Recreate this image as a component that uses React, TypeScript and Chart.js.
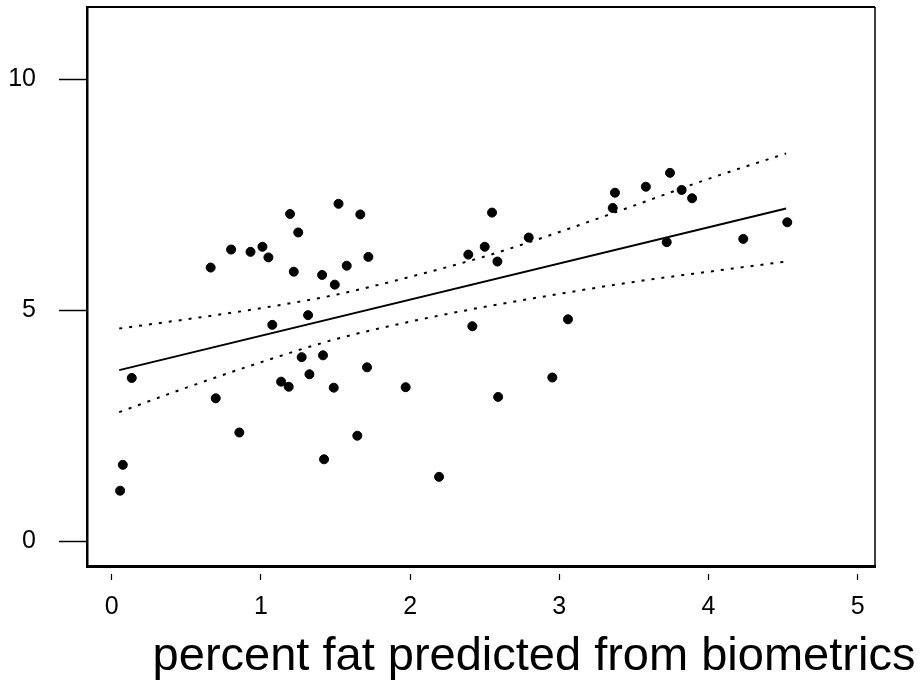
import React, { useEffect, useRef } from "react";
import { Chart, registerables } from "chart.js";

Chart.register(...registerables);

// Scatter observations
const pointX = [
  0.056, 0.074, 0.134, 0.663, 0.697, 0.8, 0.855, 0.93, 1.01, 1.05,
  1.076, 1.135, 1.186, 1.195, 1.22, 1.25, 1.273, 1.316, 1.325, 1.41,
  1.416, 1.423, 1.488, 1.495, 1.52, 1.575, 1.646, 1.666, 1.711, 1.72,
  1.97, 2.194, 2.39, 2.417, 2.5, 2.549, 2.585, 2.59, 2.795, 2.953,
  3.058, 3.358, 3.373, 3.58, 3.72, 3.742, 3.82, 3.89, 4.233, 4.528,
];
const pointY = [
  1.1, 1.66, 3.54, 5.93, 3.1, 6.32, 2.36, 6.27, 6.38, 6.15,
  4.69, 3.46, 3.35, 7.09, 5.84, 6.69, 3.99, 4.9, 3.62, 5.77,
  4.03, 1.78, 3.33, 5.56, 7.31, 5.97, 2.29, 7.08, 3.77, 6.16,
  3.34, 1.4, 6.21, 4.66, 6.38, 7.12, 6.06, 3.13, 6.58, 3.55,
  4.81, 7.22, 7.55, 7.68, 6.48, 7.98, 7.61, 7.43, 6.55, 6.91,
];

// Fitted regression line
const fitX = [0.05, 4.52];
const fitY = [3.71, 7.21];

// Confidence band
const bandX = [0.05, 0.5, 1.0, 1.5, 2.0, 2.5, 3.0, 3.5, 4.0, 4.52];
const bandUpper = [4.61, 4.81, 5.05, 5.34, 5.73, 6.17, 6.7, 7.27, 7.85, 8.4];
const bandLower = [2.8, 3.33, 3.88, 4.38, 4.76, 5.08, 5.36, 5.62, 5.84, 6.06];

// Axes
const xTicks = [0, 1, 2, 3, 4, 5];
const yTicks = [0, 5, 10];
const xTitle = "percent fat predicted from biometrics";

const FONT = '"Liberation Sans", Arial, sans-serif';

export default function App() {
  const ref = useRef<HTMLCanvasElement | null>(null);

  useEffect(() => {
    const canvas = ref.current;
    if (!canvas) return;

    const framePlugin = {
      id: "frame",
      afterDatasetsDraw(chart: any) {
        const { ctx, chartArea } = chart;
        ctx.save();
        ctx.strokeStyle = "#000";
        ctx.lineWidth = 2;
        ctx.beginPath();
        ctx.moveTo(chartArea.left, chartArea.top);
        ctx.lineTo(chartArea.right, chartArea.top);
        ctx.stroke();
        ctx.lineWidth = 1.5;
        ctx.beginPath();
        ctx.moveTo(chartArea.right, chartArea.top);
        ctx.lineTo(chartArea.right, chartArea.bottom);
        ctx.stroke();
        ctx.restore();
      },
      afterDraw(chart: any) {
        const { ctx } = chart;
        ctx.save();
        ctx.fillStyle = "#000";
        ctx.font = `47px ${FONT}`;
        ctx.textAlign = "center";
        ctx.textBaseline = "alphabetic";
        ctx.fillText(xTitle, 534, 670);
        ctx.restore();
      },
    };

    const chart = new Chart(canvas, {
      type: "scatter",
      data: {
        datasets: [
          {
            label: "observations",
            data: pointX.map((x, i) => ({ x, y: pointY[i] })),
            backgroundColor: "#000",
            borderColor: "#000",
            pointRadius: 4.5,
            pointHoverRadius: 4.5,
            showLine: false,
          },
          {
            label: "fit",
            type: "line",
            data: fitX.map((x, i) => ({ x, y: fitY[i] })),
            borderColor: "#000",
            borderWidth: 2,
            pointRadius: 0,
            fill: false,
          },
          {
            label: "upper",
            type: "line",
            data: bandX.map((x, i) => ({ x, y: bandUpper[i] })),
            borderColor: "#000",
            borderWidth: 2,
            borderDash: [3, 7],
            pointRadius: 0,
            cubicInterpolationMode: "monotone",
            fill: false,
          },
          {
            label: "lower",
            type: "line",
            data: bandX.map((x, i) => ({ x, y: bandLower[i] })),
            borderColor: "#000",
            borderWidth: 2,
            borderDash: [3, 7],
            pointRadius: 0,
            cubicInterpolationMode: "monotone",
            fill: false,
          },
        ],
      },
      options: {
        responsive: false,
        animation: false,
        layout: { padding: { top: 7, right: 48, left: 0, bottom: 0 } },
        plugins: {
          legend: { display: false },
          tooltip: { enabled: false },
          title: { display: false },
        },
        scales: {
          x: {
            type: "linear",
            min: -0.166,
            max: 5.116,
            afterBuildTicks: (scale: any) => {
              scale.ticks = xTicks.map((v) => ({ value: v }));
            },
            afterFit: (scale: any) => {
              scale.height = 116;
              scale.paddingLeft = 0;
              scale.paddingRight = 0;
            },
            border: { display: true, color: "#000", width: 3 },
            grid: {
              drawOnChartArea: false,
              drawTicks: true,
              tickLength: 14,
              tickColor: "#000",
              tickWidth: 1.2,
              tickBorderDash: [0, 6, 8, 100],
            },
            ticks: {
              color: "#000",
              font: { family: FONT, size: 25 },
              padding: 12.5,
              maxRotation: 0,
              autoSkip: false,
            },
          },
          y: {
            type: "linear",
            min: -0.53,
            max: 11.57,
            afterBuildTicks: (scale: any) => {
              scale.ticks = yTicks.map((v) => ({ value: v }));
            },
            afterFit: (scale: any) => {
              scale.width = 87;
              scale.paddingTop = 0;
              scale.paddingBottom = 0;
            },
            border: { display: true, color: "#000", width: 2.5 },
            grid: {
              drawOnChartArea: false,
              drawTicks: true,
              tickLength: 28,
              tickColor: "#000",
              tickWidth: 1.5,
            },
            ticks: {
              color: "#000",
              font: { family: FONT, size: 25 },
              padding: 23,
              autoSkip: false,
            },
          },
        },
      },
      plugins: [framePlugin],
    });

    return () => chart.destroy();
  }, []);

  return (
    <div style={{ position: "absolute", left: 0, top: 0, width: 923, height: 682, background: "#fff" }}>
      <canvas ref={ref} width={923} height={682} style={{ width: 923, height: 682, display: "block" }} />
    </div>
  );
}
